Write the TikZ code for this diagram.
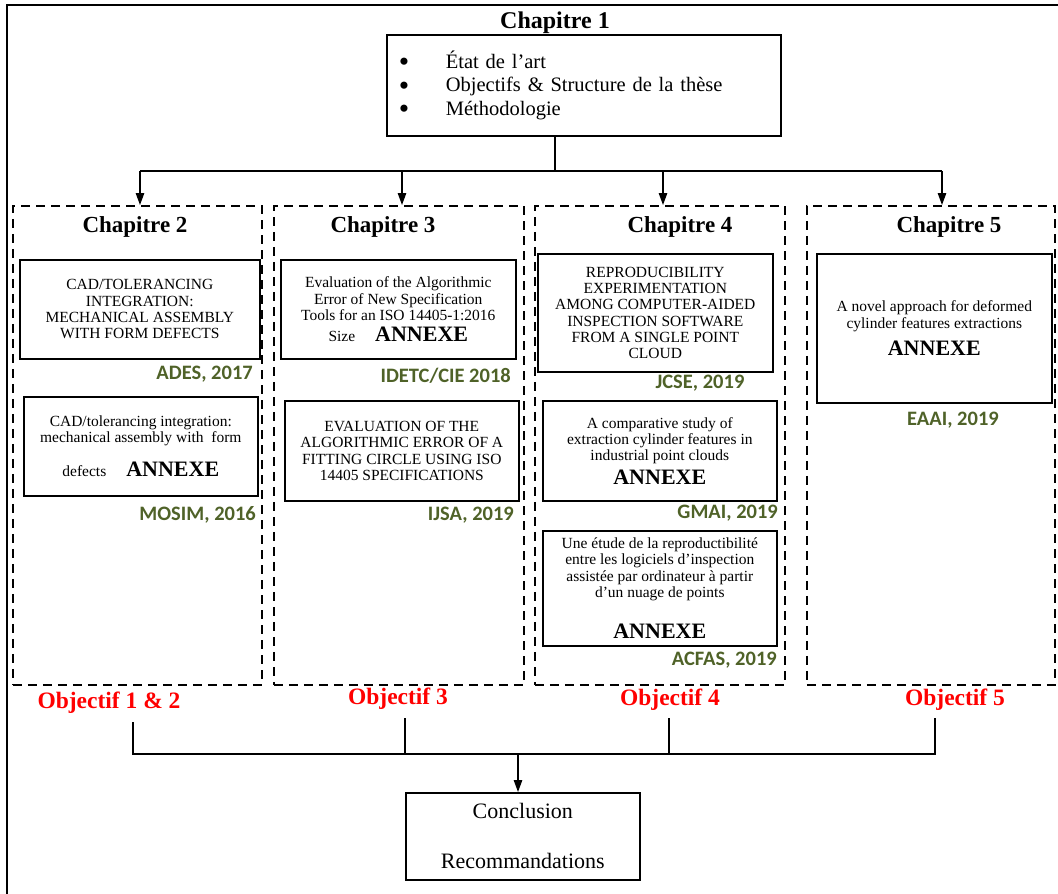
\documentclass[tikz,border=0pt]{standalone}
\usepackage{fontspec}
\usepackage{graphicx}
\setmainfont{Liberation Serif}
\newfontfamily\calibrifont{Carlito}
\usetikzlibrary{arrows.meta}
\definecolor{pubgreen}{RGB}{79,98,40}
\lineskiplimit=-100pt
\newcommand{\annexetxt}{{\fontsize{22}{24}\selectfont\bfseries ANNEXE}}
\newcommand{\bigbul}{\makebox[46pt][l]{\hspace{-1pt}\raisebox{-3.2pt}[0pt][0pt]{\scalebox{1.45}{•}}}}
\begin{document}
\begin{tikzpicture}[x=1pt,y=-1pt,
  frame/.style={line width=2.2pt},
  chapbox/.style={draw, dash pattern=on 9pt off 6pt, line width=1.6pt, inner sep=0pt, anchor=north west},
  pubbox/.style={draw, line width=1.6pt, align=center, inner sep=2pt, anchor=north west,
    font=\fontsize{15.5}{16.3}\selectfont},
  chaptitle/.style={font=\fontsize{23}{26}\selectfont\bfseries, inner sep=0pt},
  pub/.style={font=\calibrifont\fontsize{20.5}{22}\selectfont\bfseries, text=pubgreen, inner sep=0pt},
  obj/.style={font=\fontsize{23.5}{26}\selectfont\bfseries, text=red, inner sep=0pt},
  conn/.style={line width=1.2pt},
  arr/.style={conn, -{Triangle[length=12pt,width=8.5pt]}}
]
\useasboundingbox (0,0) rectangle (1058,894);

% outer frame
\coordinate (fTL) at (7,5);
\coordinate (fTR) at (1058,5);
\coordinate (fBL) at (7,894);
\draw[frame] (fTR) -- (fTL) -- (fBL);

% chapter 1
\node[chaptitle, font=\fontsize{24}{27}\selectfont\bfseries] (t1) at (555,23) {Chapitre 1};
\node[draw, line width=1.6pt, anchor=north west, minimum width=394pt, minimum height=101pt,
  inner xsep=13pt, text width=368pt, align=left, font=\fontsize{20.5}{23.5}\selectfont] (box1) at (386,34)
  {\bigbul État de l’art\\
   \bigbul Objectifs \& Structure de la thèse\\
   \bigbul Méthodologie};

% chapter frames
\node[chapbox, minimum width=249pt, minimum height=479pt] (ch2) at (12,205) {};
\node[chapbox, minimum width=250pt, minimum height=479pt] (ch3) at (273,205) {};
\node[chapbox, minimum width=250pt, minimum height=479pt] (ch4) at (534,205) {};
\node[chapbox, minimum width=248pt, minimum height=479pt] (ch5) at (806,205) {};

\node[chaptitle] (t2) at (135,227) {Chapitre 2};
\node[chaptitle] (t3) at (383,227) {Chapitre 3};
\node[chaptitle] (t4) at (680,227) {Chapitre 4};
\node[chaptitle] (t5) at (949,227) {Chapitre 5};

% chapter 2
\node[pubbox, minimum width=240pt, minimum height=99pt] (c2a) at (19,259)
  {CAD/TOLERANCING\\INTEGRATION:\\MECHANICAL ASSEMBLY\\WITH FORM DEFECTS};
\node[pub, anchor=east] (p2a) at (253,374) {ADES, 2017};
\node[pubbox, minimum width=234pt, minimum height=99pt] (c2b) at (23,396)
  {CAD/tolerancing integration:\\mechanical assembly with\ \ form\\[18pt]defects\hspace{20pt}\annexetxt};
\node[pub, anchor=east] (p2b) at (256,515) {MOSIM, 2016};

% chapter 3
\node[pubbox, minimum width=235pt, minimum height=99pt] (c3a) at (280,259)
  {Evaluation of the Algorithmic\\Error of New Specification\\Tools for an ISO 14405-1:2016\\[4.5pt]Size\hspace{20pt}\annexetxt};
\node[pub, anchor=east] (p3a) at (511,376) {IDETC/CIE 2018};
\node[pubbox, minimum width=234pt, minimum height=100pt] (c3b) at (284,400)
  {EVALUATION OF THE\\ALGORITHMIC ERROR OF A\\FITTING CIRCLE USING ISO\\14405 SPECIFICATIONS};
\node[pub, anchor=east] (p3b) at (514,515) {IJSA, 2019};

% chapter 4
\node[pubbox, minimum width=235pt, minimum height=118pt] (c4a) at (537,253)
  {REPRODUCIBILITY\\EXPERIMENTATION\\AMONG COMPUTER-AIDED\\INSPECTION SOFTWARE\\FROM A SINGLE POINT\\CLOUD};
\node[pub] (p4a) at (700,383) {JCSE, 2019};
\node[pubbox, minimum width=234pt, minimum height=100pt] (c4b) at (542,400)
  {A comparative study of\\extraction cylinder features in\\industrial point clouds\\[7pt]\annexetxt};
\node[pub, anchor=east] (p4b) at (778,513) {GMAI, 2019};
\node[pubbox, minimum width=234pt, minimum height=115pt] (c4c) at (542,530)
  {Une étude de la reproductibilité\\entre les logiciels d’inspection\\assistée par ordinateur à partir\\d’un nuage de points\\[25pt]\annexetxt};
\node[pub, anchor=east] (p4c) at (777,660) {ACFAS, 2019};

% chapter 5
\node[pubbox, minimum width=235pt, minimum height=149pt] (c5a) at (816,253)
  {A novel approach for deformed\\cylinder features extractions\\[11pt]\annexetxt};
\node[pub] (p5a) at (953,420) {EAAI, 2019};

% objectives
\node[obj] (o12) at (109,703) {Objectif 1 \& 2};
\node[obj] (o3t) at (398,699) {Objectif 3};
\node[obj] (o4t) at (670,700) {Objectif 4};
\node[obj] (o5t) at (955,700) {Objectif 5};

% conclusion
\node[draw, line width=1.6pt, anchor=north west, minimum width=234pt, minimum height=87pt,
  align=center, font=\fontsize{22}{25}\selectfont] (concl) at (405,792)
  {Conclusion\\[25pt]Recommandations};

% top connectors
\coordinate (s0) at (555,171);
\coordinate (a2) at (140,171);
\coordinate (a3) at (402,171);
\coordinate (a4) at (663,171);
\coordinate (a5) at (942,171);
\draw[conn] (box1.south -| s0) -- (s0);
\draw[conn] (a2) -- (a5);
\draw[arr] (a2) -- (a2 |- ch2.north);
\draw[arr] (a3) -- (a3 |- ch3.north);
\draw[arr] (a4) -- (a4 |- ch4.north);
\draw[arr] (a5) -- (a5 |- ch5.north);

% bottom connectors
\coordinate (j2) at (133,722);
\coordinate (j3) at (405,718);
\coordinate (j4) at (669,718);
\coordinate (j5) at (935,718);
\coordinate (bm) at (518,754);
\draw[conn] (j2) -- (j2 |- bm) -- (j5 |- bm) -- (j5);
\draw[conn] (j3) -- (j3 |- bm);
\draw[conn] (j4) -- (j4 |- bm);
\draw[arr] (bm) -- (bm |- concl.north);
\end{tikzpicture}
\end{document}
